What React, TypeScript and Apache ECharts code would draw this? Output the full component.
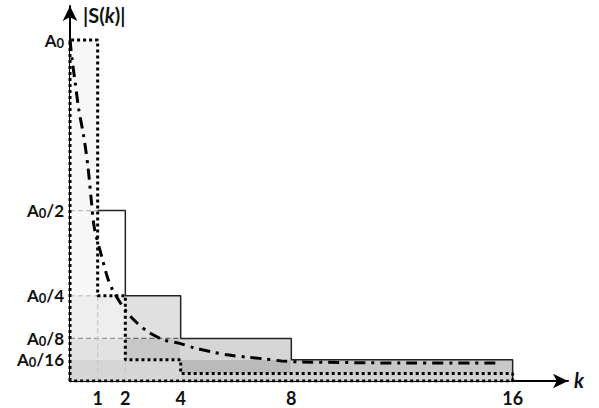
import React, { useEffect, useRef } from "react";
import * as echarts from "echarts";

// k tick positions shown on the x axis
const K_TICKS = [1, 2, 4, 8, 16];
// magnitude levels (fraction of A0) and their labels
const LEVEL_VALUES = [1, 0.5, 0.25, 0.125, 0.0625];
const LEVEL_DIVISORS = ["", "/2", "/4", "/8", "/16"];

// shaded rectangles: k range and level range (fractions of A0)
const RECT_K0 = [0, 0, 0, 0, 2, 2, 4, 4, 4, 8, 8];
const RECT_K1 = [1, 2, 2, 4, 4, 4, 8, 8, 8, 16, 16];
const RECT_V0 = [0.25, 0.125, 0.0625, 0, 0.125, 0.0625, 0.0625, 0.022, 0, 0.022, 0];
const RECT_V1 = [1, 0.25, 0.125, 0.0625, 0.25, 0.125, 0.125, 0.0625, 0.022, 0.0625, 0.022];

// solid staircase (upper bound)
const STAIR_K = [1, 2, 2, 4, 4, 8, 8, 16, 16];
const STAIR_V = [0.5, 0.5, 0.25, 0.25, 0.125, 0.125, 0.0625, 0.0625, 0];

// dotted staircase (lower bound, closed)
const DOT_K = [0, 0, 1, 1, 2, 2, 4, 4, 16, 16, 0];
const DOT_V = [0, 1, 1, 0.25, 0.25, 0.0625, 0.0625, 0.022, 0.022, 0, 0];

// dash-dot decay curve |S(k)|
const CURVE_K = [0, 0.08, 0.19, 0.31, 0.5, 0.65, 0.77, 0.88, 1.15, 1.35, 1.54, 2.0, 2.39, 2.82, 3.41, 3.93, 4.5, 5.14, 5.75, 6.39, 7.0, 7.64, 8.3, 11.9, 15.5];
const CURVE_V = [1.0, 0.94, 0.874, 0.8, 0.716, 0.628, 0.53, 0.449, 0.364, 0.305, 0.267, 0.208, 0.173, 0.144, 0.12, 0.111, 0.097, 0.085, 0.076, 0.07, 0.065, 0.059, 0.056, 0.053, 0.053];

// dashed guide segments: [k0, v0, k1, v1]
const GUIDE_K0 = [0, 0, 0, 2, 1, 2];
const GUIDE_V0 = [0.5, 0.25, 0.125, 0.125, 0, 0];
const GUIDE_K1 = [1, 1, 2, 4, 1, 2];
const GUIDE_V1 = [0.5, 0.25, 0.125, 0.125, 0.25, 0.0625];

// styles (not data)
const RECT_FILLS = ["#f7f7f7", "#eeeeee", "#e2e2e2", "#d6d6d6", "#e0e0e0", "#c8c8c8", "#d6d6d6", "#bababa", "#d0d0d0", "#c8c8c8", "#d2d2d2"];
const GUIDE_COLORS = ["#bdbdbd", "#bdbdbd", "#9a9a9a", "#666666", "#c8c8c8", "#c8c8c8"];

const FONT = "Lato, 'DejaVu Sans', sans-serif";

export default function App() {
  const ref = useRef<HTMLDivElement>(null);
  useEffect(() => {
    if (!ref.current) return;
    const chart = echarts.init(ref.current, null, { renderer: "svg" });
    const rectData = RECT_K0.map((k0, i) => [k0, RECT_K1[i], RECT_V0[i], RECT_V1[i]]);
    const guideData = GUIDE_K0.map((k0, i) => [k0, GUIDE_V0[i], GUIDE_K1[i], GUIDE_V1[i]]);
    const option: any = {
      animation: false,
      grid: { left: 70, right: 31, top: 6, bottom: 27, containLabel: false },
      xAxis: {
        type: "value",
        min: 0,
        max: 18,
        splitLine: { show: false },
        axisLine: { show: true, symbol: ["none", "arrow"], symbolSize: [11, 15], lineStyle: { color: "#000", width: 2 } },
        axisTick: { show: false },
        axisLabel: {
          customValues: K_TICKS,
          hideOverlap: false,
          margin: 8,
          fontFamily: FONT,
          fontWeight: "bold",
          fontSize: 18,
          color: "#111",
        },
      },
      yAxis: {
        type: "value",
        min: 0,
        max: 1.1,
        splitLine: { show: false },
        axisLine: { show: true, symbol: ["none", "arrow"], symbolSize: [11, 15], lineStyle: { color: "#000", width: 2 } },
        axisTick: { show: false },
        axisLabel: {
          customValues: LEVEL_VALUES,
          hideOverlap: false,
          margin: 6,
          formatter: (v: number) => {
            const i = LEVEL_VALUES.findIndex((x) => Math.abs(x - v) < 1e-6);
            if (i < 0) return "";
            return "{a|A}{s|0}" + (LEVEL_DIVISORS[i] ? "{a|" + LEVEL_DIVISORS[i] + "}" : "");
          },
          rich: {
            a: { fontFamily: FONT, fontWeight: "bold", fontSize: 17, color: "#111", verticalAlign: "middle", lineHeight: 18 },
            s: { fontFamily: FONT, fontWeight: "bold", fontSize: 13, color: "#111", verticalAlign: "bottom", lineHeight: 9 },
          },
        },
      },
      series: [
        {
          type: "custom",
          name: "rects",
          clip: false,
          encode: { x: [0, 1], y: [2, 3] },
          data: rectData,
          z: 1,
          renderItem: (params: any, api: any) => {
            const p0 = api.coord([api.value(0), api.value(3)]);
            const p1 = api.coord([api.value(1), api.value(2)]);
            return {
              type: "rect",
              shape: { x: p0[0], y: p0[1], width: p1[0] - p0[0], height: p1[1] - p0[1] },
              style: { fill: RECT_FILLS[params.dataIndex], stroke: null },
            };
          },
        },
        {
          type: "custom",
          name: "guides",
          clip: false,
          encode: { x: [0, 2], y: [1, 3] },
          data: guideData,
          z: 2,
          renderItem: (params: any, api: any) => {
            const p0 = api.coord([api.value(0), api.value(1)]);
            const p1 = api.coord([api.value(2), api.value(3)]);
            return {
              type: "line",
              shape: { x1: p0[0], y1: p0[1], x2: p1[0], y2: p1[1] },
              style: { stroke: GUIDE_COLORS[params.dataIndex], lineWidth: 1.2, lineDash: [5, 3] },
            };
          },
        },
        {
          type: "line",
          name: "stair",
          data: STAIR_K.map((k, i) => [k, STAIR_V[i]]),
          showSymbol: false,
          symbol: "none",
          z: 3,
          lineStyle: { color: "#222", width: 1.5 },
        },
        {
          type: "line",
          name: "dotted",
          data: DOT_K.map((k, i) => [k, DOT_V[i]]),
          showSymbol: false,
          symbol: "none",
          z: 4,
          lineStyle: { color: "#000", width: 3, type: [3, 3], cap: "butt" },
        },
        {
          type: "line",
          name: "curve",
          data: CURVE_K.map((k, i) => [k, CURVE_V[i]]),
          smooth: 0.3,
          showSymbol: false,
          symbol: "none",
          z: 5,
          lineStyle: { color: "#000", width: 3, type: [11, 6, 3, 6], cap: "butt" },
        },
      ],
      graphic: [
        {
          type: "text",
          left: 83,
          top: 5,
          style: {
            text: "|S({i|k})|",
            rich: {
              i: { fontFamily: FONT, fontWeight: "bold", fontStyle: "italic", fontSize: 20, fill: "#111" },
            },
            font: "bold 20px " + FONT,
            fill: "#111",
          },
        },
        {
          type: "text",
          left: 574,
          top: 370,
          style: { text: "k", font: "italic bold 20px " + FONT, fill: "#111" },
        },
      ],
    };
    chart.setOption(option);
    return () => chart.dispose();
  }, []);
  return <div ref={ref} style={{ width: 599, height: 408, position: "absolute", left: 0, top: 0 }} />;
}
